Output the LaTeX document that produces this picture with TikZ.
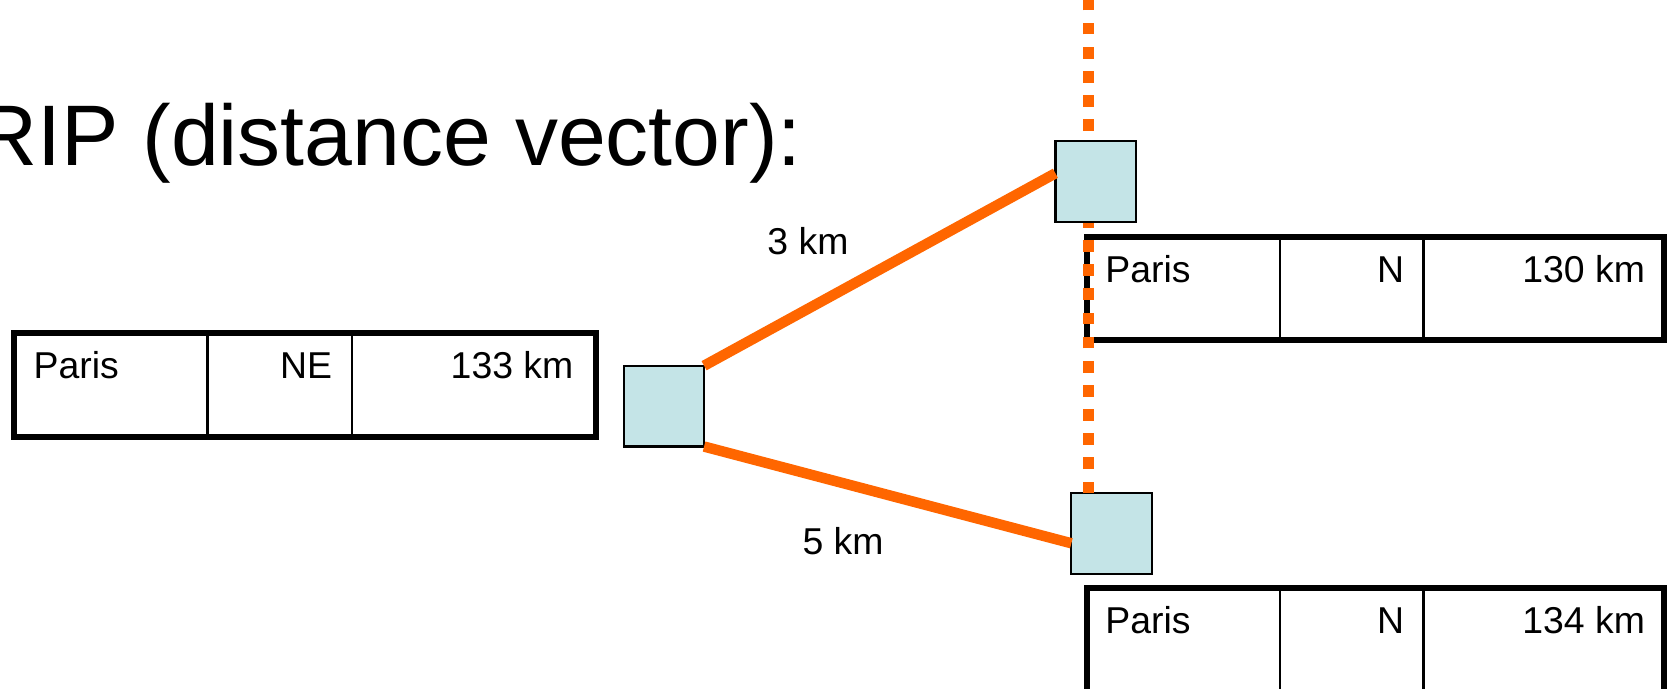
\documentclass[tikz,border=0pt]{standalone}
\usepackage{fontspec}
\setmainfont{Liberation Sans}
\definecolor{rorange}{RGB}{255,102,0}
\definecolor{rfill}{RGB}{196,228,231}
\begin{document}
\begin{tikzpicture}[x=0.01cm,y=-0.01cm,
  router/.style={draw=black, line width=0.6pt, fill=rfill, minimum width=0.755cm, minimum height=0.76cm, inner sep=0, outer sep=0},
  tbl/.style={draw=black, line width=1.6pt, inner sep=0, outer sep=0, anchor=north west},
  divider/.style={draw=black, line width=0.7pt},
  link/.style={draw=rorange, line width=2.8pt},
  dotline/.style={draw=rorange, line width=0.1cm, dash pattern=on 0.11cm off 0.117cm},
  cell/.style={inner sep=0, font=\fontsize{10}{12}\selectfont},
  title/.style={inner sep=0, anchor=base west, font=\fontsize{23}{27}\selectfont}]
\useasboundingbox (0,0) rectangle (1568,648);

% tables
\node[tbl, minimum width=5.47cm, minimum height=0.98cm] (t1) at (13,313) {};
\node[tbl, minimum width=5.43cm, minimum height=0.97cm] (t2) at (1022,223) {};
\node[tbl, minimum width=5.43cm, minimum height=1.6cm] (t3) at (1022,553) {};
\draw[divider] (195,313) -- (195,411);
\draw[divider] (331,313) -- (331,411);
\draw[divider] (1204,223) -- (1204,320);
\draw[divider] (1339,223) -- (1339,320);
\draw[divider] (1204,553) -- (1204,700);
\draw[divider] (1339,553) -- (1339,700);

% routers
\coordinate (dtop) at (1024,-6);
\node[router] (B) at (1045.5,502) {};
\draw[dotline] (dtop |- B.north) -- (dtop);
\node[router] (L) at (624.5,382) {};
\node[router] (T) at (1030.5,171) {};

% links
\draw[link] (L.north east) -- ([yshift=0.08cm]T.west);
\draw[link] (L.south east) -- ([yshift=-0.09cm]B.west);

% texts
\node[title] (ttl) at (-24,156) {RIP (distance vector):};
\node[cell, anchor=base] (l3) at (760,239) {3 km};
\node[cell, anchor=base] (l5) at (793,522) {5 km};

\node[cell, anchor=base west] (p1) at (31,356) {Paris};
\node[cell, anchor=base east] (d1) at (313,356) {NE};
\node[cell, anchor=base east] (k1) at (540,356) {133 km};

\node[cell, anchor=base west] (p2) at (1039,266) {Paris};
\node[cell, anchor=base east] (d2) at (1321.5,266) {N};
\node[cell, anchor=base east] (k2) at (1548,266) {130 km};

\node[cell, anchor=base west] (p3) at (1039,596) {Paris};
\node[cell, anchor=base east] (d3) at (1321.5,596) {N};
\node[cell, anchor=base east] (k3) at (1548,596) {134 km};
\end{tikzpicture}
\end{document}
